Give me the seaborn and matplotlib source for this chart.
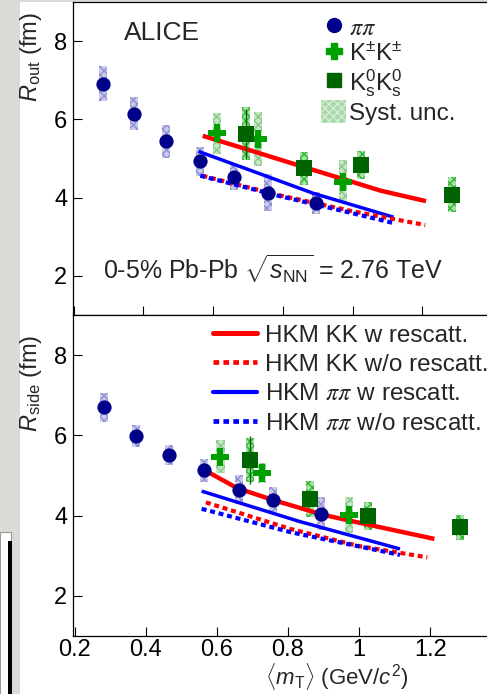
import numpy as np
import pandas as pd
import matplotlib
matplotlib.use("Agg")
import matplotlib.pyplot as plt
import seaborn as sns
from matplotlib.patches import Rectangle, Patch
from matplotlib.lines import Line2D

# ---------------- data ----------------
mt_pi = [0.283, 0.373, 0.466, 0.563, 0.661, 0.757, 0.894]
rout_pi = [6.91, 6.15, 5.44, 4.93, 4.53, 4.13, 3.87]
rout_pi_sys = [0.45, 0.42, 0.42, 0.37, 0.34, 0.48, 0.28]
rside_pi = [6.70, 5.99, 5.51, 5.13, 4.65, 4.40, 4.05]
rside_pi_sys = [0.36, 0.27, 0.26, 0.28, 0.36, 0.31, 0.42]

mt_kch = [0.610, 0.728, 0.971]
rout_kch = [5.64, 5.50, 4.41]
rout_kch_sys = [0.53, 0.68, 0.56]
rside_kch = [5.47, 5.07, 4.02]
rside_kch_sys = [0.42, 0.25, 0.45]

mt_k0 = [0.693, 0.861, 1.024, 1.285]
rout_k0 = [5.63, 4.75, 4.83, 4.07]
rout_k0_sys = [0.68, 0.42, 0.36, 0.45]
rout_k0_stat = [0.64, 0.10, 0.10, 0.10]
rside_k0 = [5.39, 4.42, 3.98, 3.71]
rside_k0_sys = [0.55, 0.45, 0.35, 0.31]
rside_k0_stat = [0.59, 0.10, 0.10, 0.10]

# HKM model curves
out_kk_w_x = [0.570, 0.720, 0.864, 1.000, 1.079, 1.210]
out_kk_w_y = [5.58, 5.17, 4.77, 4.40, 4.18, 3.91]
out_kk_wo_x = [0.569, 0.790, 1.000, 1.208]
out_kk_wo_y = [4.56, 4.06, 3.65, 3.30]
out_pp_w_x = [0.558, 0.700, 0.887, 1.117]
out_pp_w_y = [5.18, 4.72, 4.11, 3.50]
out_pp_wo_x = [0.563, 0.790, 1.000, 1.117]
out_pp_wo_y = [4.56, 4.04, 3.60, 3.35]

side_kk_w_x = [0.562, 0.656, 0.754, 0.899, 1.049, 1.212]
side_kk_w_y = [5.15, 4.69, 4.40, 4.02, 3.73, 3.42]
side_kk_wo_x = [0.569, 0.806, 1.000, 1.192]
side_kk_wo_y = [4.33, 3.67, 3.24, 2.96]
side_pp_w_x = [0.557, 0.834, 1.115]
side_pp_w_y = [4.61, 3.85, 3.17]
side_pp_wo_x = [0.557, 0.806, 1.115]
side_pp_wo_y = [4.17, 3.59, 3.02]

xticks = [0.2, 0.4, 0.6, 0.8, 1.0, 1.2]
xticklabels = ["0.2", "0.4", "0.6", "0.8", "1", "1.2"]
yticks = [2, 4, 6, 8]

# ---------------- style ----------------
sns.set_theme(style="white")
plt.rcParams["font.family"] = ["Liberation Sans", "DejaVu Sans"]
plt.rcParams["mathtext.fontset"] = "custom"
plt.rcParams["mathtext.rm"] = "Liberation Sans"
plt.rcParams["mathtext.it"] = "Liberation Sans:italic"
plt.rcParams["mathtext.sf"] = "STIXGeneral:italic"
plt.rcParams["hatch.linewidth"] = 1.0

C_PI = "#00008b"
C_KCH = "#00a000"
C_K0 = "#006400"
C_RED = "#ff0000"
C_BLUE = "#0000ff"

W, H = 487, 694
fig = plt.figure(figsize=(W / 100, H / 100), dpi=100)
fig.patch.set_facecolor("white")

# screenshot background pieces
fig.patches.append(Rectangle((0, 0), 20 / W, 1, transform=fig.transFigure,
                             facecolor="#dcdad6", edgecolor="none", zorder=-5))
fig.patches.append(Rectangle((0, 1 - 2 / H), 1, 2 / H, transform=fig.transFigure,
                             facecolor="#dcdad6", edgecolor="none", zorder=-5))
fig.patches.append(Rectangle((0, 0), 11 / W, (H - 532) / H, transform=fig.transFigure,
                             facecolor="white", edgecolor="#999999", lw=0.8, zorder=-4))
fig.patches.append(Rectangle((8 / W, 0), 4 / W, (H - 541) / H, transform=fig.transFigure,
                             facecolor="black", edgecolor="none", zorder=-3))

left = 73 / W
width = (W - 73) / W
ax1 = fig.add_axes([left, 1 - 315 / H, width, (315 - 2) / H])
ax2 = fig.add_axes([left, 1 - 636 / H, width, (636 - 315) / H])


def syst(ax, x, y, e, fc, hc, w=0.023):
    y = np.asarray(y); e = np.asarray(e)
    ax.bar(x, 2 * e, bottom=y - e, width=w, color=fc, edgecolor=hc,
           hatch="xxxx", linewidth=0, zorder=2)


def model(ax, x, y, color, lw, dotted):
    ls = (0, (1.2, 0.9)) if dotted else "-"
    sns.lineplot(x=x, y=y, ax=ax, color=color, lw=lw, linestyle=ls,
                 solid_capstyle="butt", dash_capstyle="butt", zorder=3,
                 sort=False, estimator=None)


def points(ax, x, y, marker, color, s):
    sns.scatterplot(x=x, y=y, ax=ax, marker=marker, color=color, s=s,
                    linewidth=0, zorder=5)


panels = [
    (ax1, rout_pi, rout_pi_sys, rout_kch, rout_kch_sys, rout_k0, rout_k0_sys, rout_k0_stat,
     [(out_kk_w_x, out_kk_w_y, C_RED, 3.2, False),
      (out_pp_w_x, out_pp_w_y, C_BLUE, 2.5, False),
      (out_kk_wo_x, out_kk_wo_y, C_RED, 3.0, True),
      (out_pp_wo_x, out_pp_wo_y, C_BLUE, 3.0, True)]),
    (ax2, rside_pi, rside_pi_sys, rside_kch, rside_kch_sys, rside_k0, rside_k0_sys, rside_k0_stat,
     [(side_kk_w_x, side_kk_w_y, C_RED, 3.2, False),
      (side_pp_w_x, side_pp_w_y, C_BLUE, 2.5, False),
      (side_kk_wo_x, side_kk_wo_y, C_RED, 3.0, True),
      (side_pp_wo_x, side_pp_wo_y, C_BLUE, 3.0, True)]),
]

for ax, rpi, rpis, rk, rks, r0, r0s, r0st, curves in panels:
    syst(ax, mt_pi, rpi, rpis, "#cacaee", "#8f8fd0")
    syst(ax, mt_kch, rk, rks, "#c6e6c6", "#86c886")
    syst(ax, mt_k0, r0, r0s, "#a8e2a8", "#2fb52f")
    for cx, cy, col, lw, dot in curves:
        model(ax, cx, cy, col, lw, dot)
    ax.errorbar(mt_k0, r0, yerr=r0st, fmt="none", ecolor=C_K0, elinewidth=1.0, zorder=4)
    points(ax, mt_pi, rpi, "o", C_PI, 105)
    points(ax, mt_kch, rk, "P", C_KCH, 150)
    points(ax, mt_k0, r0, "s", C_K0, 125)

    ax.set_ylim(1, 9)
    ax.set_yticks(yticks)
    ax.set_xticks(xticks)
    ax.set_xticklabels(xticklabels)
    ax.tick_params(direction="in", length=6.5, width=0.8, labelsize=17,
                   top=False, right=False, pad=4, colors="black")
    ax.tick_params(axis="both", which="both", bottom=True, left=True)
    for sp in ["left", "top", "bottom"]:
        ax.spines[sp].set_visible(True)
        ax.spines[sp].set_color("black")
        ax.spines[sp].set_linewidth(0.9)
    ax.spines["right"].set_visible(False)
    ax.set_facecolor("white")
    ax.grid(False)

ax1.set_xlim(0.198, 1.385)
ax2.set_xlim(0.195, 1.360)
ax1.tick_params(labelbottom=False)
ax2.tick_params(axis="x", pad=2.5)

ax1.set_ylabel(r"$R_{\mathrm{out}}$ (fm)", fontsize=17)
ax1.yaxis.set_label_coords(-0.070, 0.824)
ax2.set_ylabel(r"$R_{\mathrm{side}}$ (fm)", fontsize=17)
ax2.yaxis.set_label_coords(-0.070, 0.788)
ax2.set_xlabel(r"$\langle m_{\mathrm{T}}\rangle$ (GeV/$c^{2}$)", fontsize=16)
ax2.xaxis.set_label_coords(0.638, -0.079)

ax1.text(0.215, 0.901, "ALICE", transform=ax1.transAxes, fontsize=19,
         ha="center", va="center")
ax1.text(0.482, 0.144, r"0-5% Pb-Pb $\sqrt{s_{\mathrm{NN}}}$ = 2.76 TeV",
         transform=ax1.transAxes, fontsize=18, ha="center", va="center")

# top legend
h_top = [
    Line2D([], [], marker="o", color=C_PI, ls="none", markersize=10),
    Line2D([], [], marker="P", color=C_KCH, ls="none", markersize=11),
    Line2D([], [], marker="s", color=C_K0, ls="none", markersize=10),
    Patch(facecolor="#a8d8a8", edgecolor="#d2eed2", hatch="xxxx", linewidth=0),
]
l_top = [r"$\mathsf{\pi\pi}$", r"K$^{\pm}$K$^{\pm}$",
         r"K$^{0}_{\mathrm{s}}$K$^{0}_{\mathrm{s}}$", "Syst. unc."]
leg1 = ax1.legend(h_top, l_top, loc="upper left", bbox_to_anchor=(0.600, 0.959),
                  frameon=False, fontsize=17.5, handlelength=1.0, handleheight=1.1,
                  handletextpad=0.15, labelspacing=0.05, borderpad=0, borderaxespad=0)

# bottom legend
h_bot = [
    Line2D([], [], color=C_RED, lw=3.6),
    Line2D([], [], color=C_RED, lw=3.4, ls=(0, (1.2, 0.9)), dash_capstyle="butt"),
    Line2D([], [], color=C_BLUE, lw=3.0),
    Line2D([], [], color=C_BLUE, lw=3.4, ls=(0, (1.2, 0.9)), dash_capstyle="butt"),
]
l_bot = ["HKM KK w rescatt.", "HKM KK w/o rescatt.",
         r"HKM $\mathsf{\pi\pi}$ w rescatt.", r"HKM $\mathsf{\pi\pi}$ w/o rescatt."]
leg2 = ax2.legend(h_bot, l_bot, loc="upper left", bbox_to_anchor=(0.338, 0.970),
                  frameon=False, fontsize=17.5, handlelength=1.8,
                  handletextpad=0.33, labelspacing=0.30, borderpad=0, borderaxespad=0)

fig.savefig("out.png", dpi=100)
